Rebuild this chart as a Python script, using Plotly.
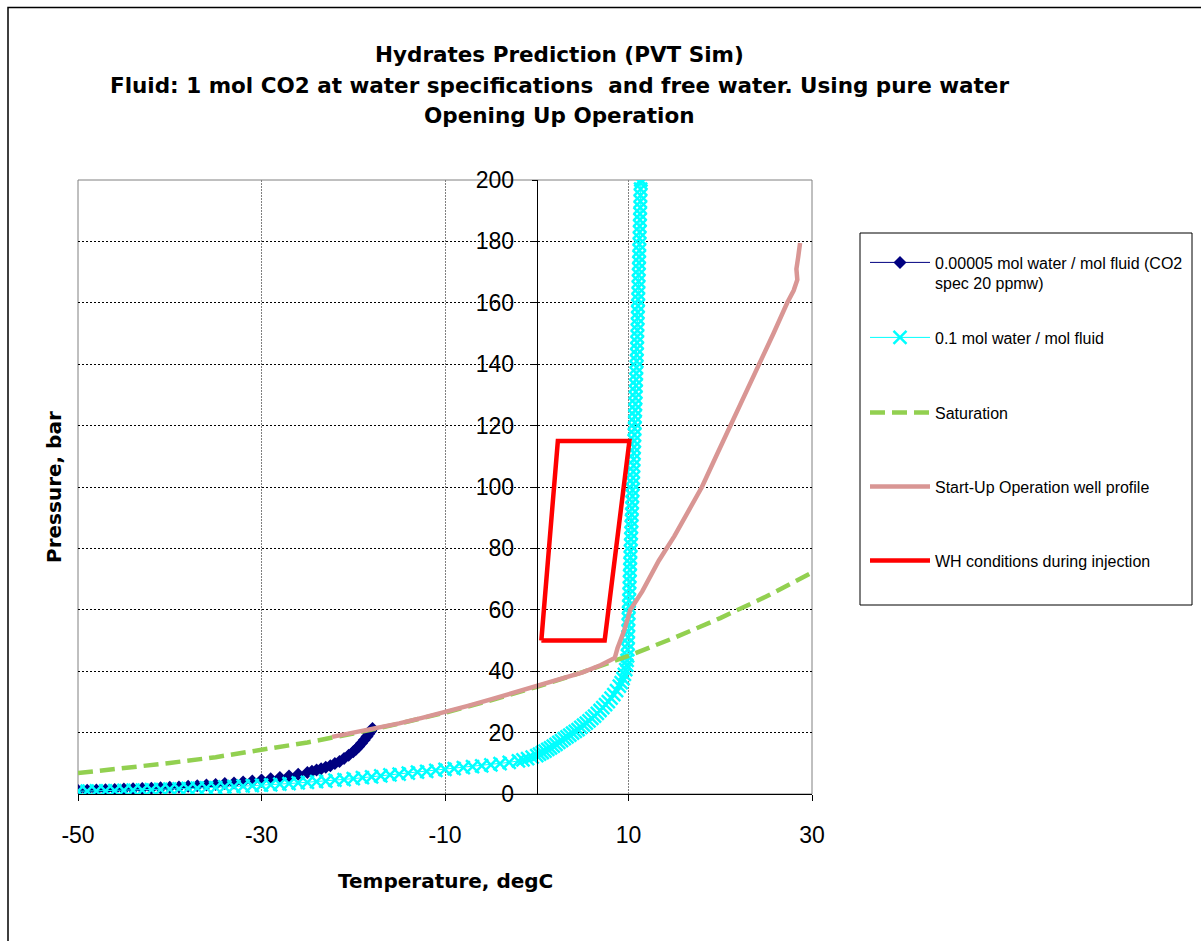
import plotly.graph_objects as go

# ---------------- data ----------------
# 0.00005 mol water / mol fluid (hydrate curve)
navy_T = [-50, -49, -48, -47, -46, -45, -44, -43, -42, -41, -40, -39, -38, -37, -36,
          -35, -34, -33, -32, -31, -30, -29, -28, -27, -26, -25, -24.5, -24, -23.5,
          -23, -22.5, -22, -21.5, -21, -20.5, -20, -19.7, -19.4, -19.1, -18.8, -18.5,
          -18.3, -18.1, -17.9]
navy_P = [1.1, 1.2, 1.3, 1.4, 1.5, 1.6, 1.7, 1.8, 1.9, 2.0, 2.2, 2.3, 2.5, 2.7, 2.9,
          3.1, 3.4, 3.6, 3.9, 4.2, 4.6, 5.0, 5.4, 5.9, 6.4, 7.0, 7.4, 7.8, 8.2,
          8.7, 9.2, 9.9, 10.6, 11.6, 12.6, 13.8, 14.6, 15.5, 16.5, 17.6, 18.7,
          19.6, 20.5, 21.3]

# 0.1 mol water / mol fluid (hydrate curve)
cyan_T = [-50, -49, -48, -47, -46, -45, -44, -43, -42, -41, -40, -39, -38, -37, -36,
          -35, -34, -33, -32, -31, -30, -29, -28, -27, -26, -25, -24, -23, -22, -21,
          -20, -19, -18, -17, -16, -15, -14, -13, -12, -11, -10, -9, -8, -7, -6,
          -5, -4, -3, -2, -1.5, -1, -0.5, 0,
          0.3, 0.6, 0.9, 1.2, 1.5, 1.8, 2.1, 2.4, 2.7, 3.0, 3.3, 3.6, 3.9, 4.2, 4.5,
          4.8, 5.1, 5.4, 5.7, 6.0, 6.3, 6.6, 6.9, 7.2, 7.5, 7.8, 8.1, 8.4, 8.7, 9.0,
          9.2, 9.4, 9.55, 9.7, 9.8, 9.85, 9.9,
          9.92, 9.94, 9.96, 9.97, 9.99, 10.0, 10.02, 10.04, 10.06, 10.08, 10.1, 10.12,
          10.14, 10.16, 10.18, 10.2, 10.22, 10.25, 10.27, 10.29, 10.31, 10.34, 10.36,
          10.38, 10.41, 10.43, 10.45, 10.48, 10.5, 10.52, 10.55, 10.57, 10.59, 10.61,
          10.63, 10.65, 10.67, 10.69, 10.71, 10.73, 10.75, 10.77, 10.79, 10.81, 10.83,
          10.85, 10.87, 10.89, 10.9, 10.92, 10.94, 10.96, 10.97, 10.99, 11.01, 11.02,
          11.04, 11.05, 11.07, 11.08, 11.1, 11.11, 11.13, 11.14, 11.16, 11.17, 11.19,
          11.2, 11.22, 11.23, 11.25, 11.26, 11.28, 11.29, 11.31, 11.32, 11.34, 11.35]
cyan_P = [0.9, 0.95, 1.0, 1.05, 1.1, 1.2, 1.25, 1.3, 1.4, 1.5, 1.6, 1.7, 1.8, 1.9, 2.0,
          2.1, 2.3, 2.4, 2.6, 2.7, 2.9, 3.0, 3.2, 3.4, 3.6, 3.8, 4.0, 4.2, 4.5, 4.7,
          5.0, 5.3, 5.6, 5.9, 6.2, 6.5, 6.8, 7.1, 7.4, 7.7, 8.0, 8.3, 8.6, 8.9, 9.2,
          9.5, 9.9, 10.3, 10.8, 11.1, 11.5, 12.0, 12.5,
          13.0, 13.5, 14.0, 14.5, 15.0, 15.6, 16.2, 16.8, 17.4, 18.0, 18.6, 19.2, 19.8,
          20.4, 21.0, 21.7, 22.4, 23.1, 23.8, 24.6, 25.4, 26.3, 27.2, 28.1, 29.1, 30.1,
          31.2, 32.4, 33.7, 35.1, 36.3, 37.6, 39.0, 40.5, 42.0, 43.5, 45.0,
          47, 49, 51, 53, 55, 57, 59, 61, 63, 65, 67, 69,
          71, 73, 75, 77, 79, 81, 83, 85, 87, 89, 91,
          93, 95, 97, 99, 101, 103, 105, 107, 109, 111,
          113, 115, 117, 119, 121, 123, 125, 127, 129, 131, 133,
          135, 137, 139, 141, 143, 145, 147, 149, 151, 153, 155,
          157, 159, 161, 163, 165, 167, 169, 171, 173, 175, 177,
          179, 181, 183, 185, 187, 189, 191, 193, 195, 197, 199, 200]

# CO2 saturation line
sat_T = [-50, -45, -40, -35, -30, -25, -20, -15, -10, -5, 0, 5, 10, 15, 20, 25, 30]
sat_P = [6.8, 8.3, 10.1, 12.0, 14.3, 16.8, 19.7, 22.9, 26.5, 30.5, 34.9, 39.7, 45.0,
         50.9, 57.3, 64.3, 72.1]

# Start-Up Operation well profile
well_T = [-22.3, -20, -17.5, -15, -12.5, -10, -7.5, -5, -2.5, 0, 3, 5, 7, 8.5, 8.8, 9.5,
          10.2, 11.5, 13.3, 15.0, 16.5, 18.0, 19.7, 21.4, 22.8, 24.3, 25.8, 27.3,
          28.0, 28.4, 28.3, 28.5, 28.7]
well_P = [18.6, 19.9, 21.5, 23.0, 24.8, 26.6, 28.7, 30.8, 33.0, 35.3, 37.8, 39.6, 42.0,
          44.3, 47.5, 53.0, 60.0, 66.0, 76.0, 84.0, 92.0, 100.0, 111.0, 121.8, 131.0,
          140.0, 150.0, 160.0, 164.0, 167.5, 171.0, 175.0, 179.5]

# WH conditions during injection
wh_T = [0.5, 2.3, 10.1, 7.4, 0.5]
wh_P = [50, 115, 115, 50, 50]

names = ['0.00005 mol water / mol fluid (CO2<br>spec 20 ppmw)',
         '0.1 mol water / mol fluid',
         'Saturation',
         'Start-Up Operation well profile',
         'WH conditions during injection']

title_lines = ['Hydrates Prediction (PVT Sim)',
               'Fluid: 1 mol CO2 at water specifications  and free water. Using pure water',
               'Opening Up Operation']

x_ticks = [-50, -30, -10, 10, 30]
x_tick_text = ['-50', '-30', '-10', '10', '30']
y_ticks = [0, 20, 40, 60, 80, 100, 120, 140, 160, 180, 200]

# ---------------- layout helpers ----------------
W, H = 1201, 941
L, R, T, B = 78, 812, 180, 794   # plot area in pixels


def px_x(p):
    return (p - L) / (R - L)


def px_y(p):
    return (B - p) / (B - T)


ARIAL = 'Liberation Sans, Arial, sans-serif'
BOLD = 'DejaVu Sans, Arial, sans-serif'

fig = go.Figure()

fig.add_trace(go.Scatter(
    x=navy_T, y=navy_P, mode='lines+markers', name=names[0],
    line=dict(color='#000080', width=1),
    marker=dict(symbol='diamond', size=10, color='#000080'),
    legend='legend'))

fig.add_trace(go.Scatter(
    x=cyan_T, y=cyan_P, mode='lines+markers', name=names[1],
    line=dict(color='#00FFFF', width=1),
    marker=dict(symbol='x-thin', size=13, color='#00FFFF',
                line=dict(width=2.5, color='#00FFFF')),
    legend='legend2'))

fig.add_trace(go.Scatter(
    x=sat_T, y=sat_P, mode='lines', name=names[2],
    line=dict(color='#92D050', width=4.5, dash='15px,7px'),
    legend='legend3'))

fig.add_trace(go.Scatter(
    x=well_T, y=well_P, mode='lines', name=names[3],
    line=dict(color='#D99694', width=4.5),
    legend='legend4'))

fig.add_trace(go.Scatter(
    x=wh_T, y=wh_P, mode='lines', name=names[4],
    line=dict(color='#FF0000', width=4.5),
    legend='legend5'))

legend_common = dict(xanchor='left', yanchor='top', bgcolor='rgba(0,0,0,0)',
                     borderwidth=0, font=dict(family=ARIAL, size=16, color='black'),
                     itemwidth=60, valign='top')
text_centers = [261, 336, 411, 485, 559]
leg_left = 865
legends = {}
for i, yc in enumerate(text_centers):
    key = 'legend' if i == 0 else 'legend%d' % (i + 1)
    legends[key] = dict(x=px_x(leg_left), y=px_y(yc - 15.5), **legend_common)

annotations = []
for line, yc in zip(title_lines, [55, 86, 116]):
    annotations.append(dict(text=line, xref='paper', yref='paper',
                            x=px_x(559), y=px_y(yc), xanchor='center', yanchor='middle',
                            showarrow=False,
                            font=dict(family=BOLD, size=21.5, color='black', weight='bold')))
annotations += [
    dict(text='Temperature, degC', xref='paper', yref='paper',
         x=0.5, y=px_y(881), xanchor='center', yanchor='middle', showarrow=False,
         font=dict(family=BOLD, size=20, color='black', weight='bold')),
    dict(text='Pressure, bar', xref='paper', yref='paper', textangle=-90,
         x=px_x(54), y=0.5, xanchor='center', yanchor='middle', showarrow=False,
         font=dict(family=BOLD, size=20, color='black', weight='bold')),
]

fig.update_layout(
    width=W, height=H,
    margin=dict(l=L, r=W - R, t=T, b=H - B, pad=0),
    paper_bgcolor='white', plot_bgcolor='white',
    showlegend=True,
    xaxis=dict(range=[-50, 30], tickvals=x_ticks, ticktext=x_tick_text,
               showgrid=True, gridcolor='#808080', gridwidth=1, griddash='2px,1px',
               zeroline=False, showline=True, linecolor='black', linewidth=1,
               ticks='outside', ticklen=6, tickcolor='black',
               tickfont=dict(family=ARIAL, size=23, color='black'),
               ticklabelstandoff=14),
    yaxis=dict(range=[0, 200], tickvals=y_ticks,
               anchor='free', position=px_x(L + (0 - (-50)) / 80 * (R - L)),
               showgrid=True, gridcolor='black', gridwidth=1, griddash='2px,2px',
               zeroline=False, showline=True, linecolor='black', linewidth=1,
               ticks='outside', ticklen=5, tickcolor='black',
               tickfont=dict(family=ARIAL, size=23, color='black'),
               ticklabelstandoff=13),
    annotations=annotations,
    shapes=[
        # plot area frame
        dict(type='rect', xref='paper', yref='paper', x0=0, x1=1, y0=0, y1=1,
             line=dict(color='#808080', width=1), layer='below'),
        # legend box
        dict(type='rect', xref='paper', yref='paper',
             x0=px_x(860), x1=px_x(1192), y0=px_y(605), y1=px_y(233),
             line=dict(color='black', width=1)),
        # chart outer frame
        dict(type='rect', xref='paper', yref='paper',
             x0=px_x(8), x1=px_x(1210), y0=px_y(950), y1=px_y(7.5),
             line=dict(color='black', width=1.5)),
    ],
    **legends,
)

fig.write_html('out.html')
